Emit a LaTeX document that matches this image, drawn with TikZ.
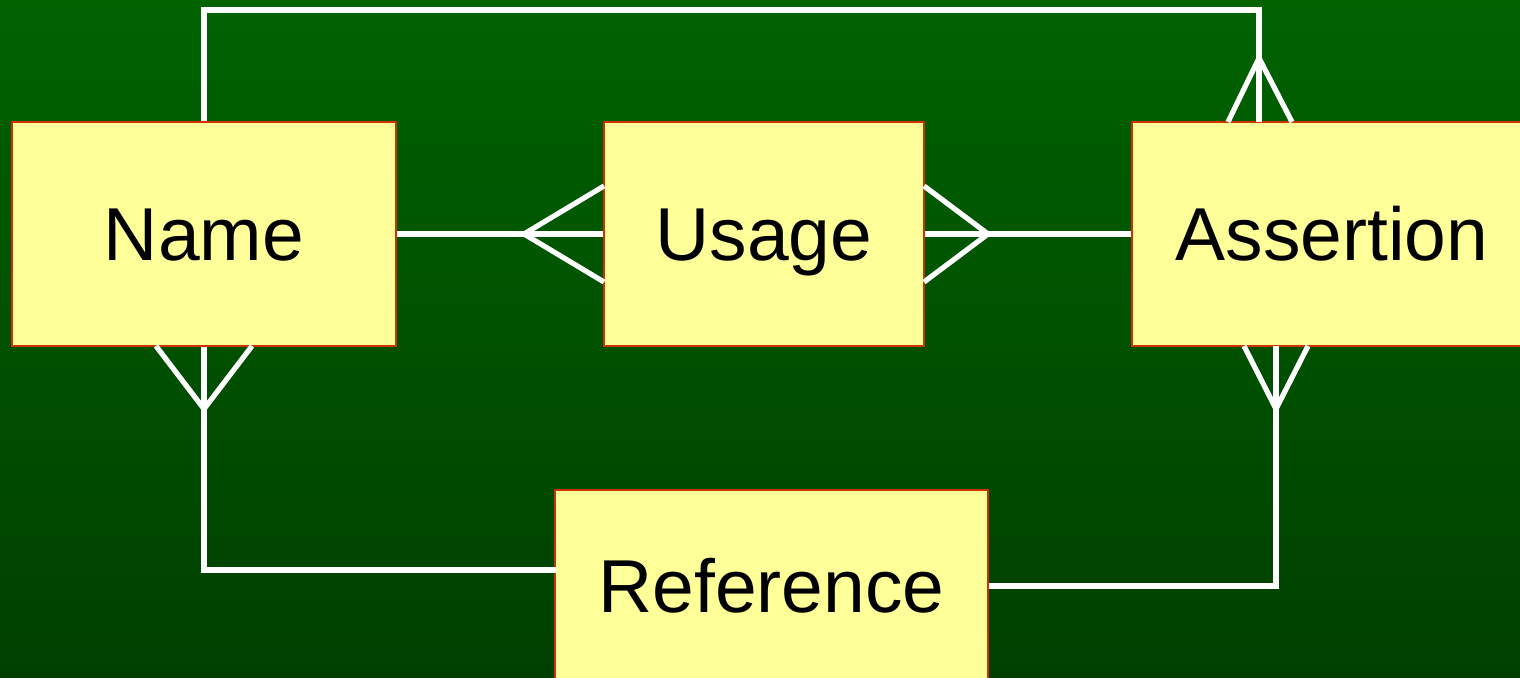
\documentclass[tikz,border=0pt]{standalone}
\usepackage{fontspec}
\setmainfont{Liberation Sans}
\definecolor{bgtop}{HTML}{006300}
\definecolor{bgbot}{HTML}{003F00}
\definecolor{boxfill}{HTML}{FFFF99}
\definecolor{boxline}{HTML}{CC3300}
\tikzset{
  entity/.style={draw=boxline, line width=1pt, fill=boxfill, inner sep=0pt,
    font=\fontsize{37.5}{45}\selectfont, text=black,
    text height=26.9pt, text depth=0pt},
  conn/.style={draw=white, line width=2.6pt, line cap=butt, line join=miter}
}
\begin{document}
\begin{tikzpicture}[x=0.5pt,y=-0.5pt]
\useasboundingbox (0,0) rectangle (1520,678);
\clip (0,0) rectangle (1520,678);
\shade[top color=bgtop, bottom color=bgbot] (0,0) rectangle (1520,678);

\node[entity, minimum width=192pt, minimum height=112pt] (name) at (204,234) {Name};
\node[entity, minimum width=160pt, minimum height=112pt] (usage) at (764,234) {Usage};
\node[entity, minimum width=200pt, minimum height=112pt] (assertion) at (1332,234) {Assertion};
\node[entity, minimum width=216.5pt, minimum height=96pt] (reference) at (771.5,586) {Reference};

% named points
\coordinate (tl) at (204,10);
\coordinate (atop) at (1259,122);
\coordinate (atopv) at (1259,58);
\coordinate (atopl) at (1228,122);
\coordinate (atopr) at (1292,122);

\coordinate (uleftv) at (524,234);
\coordinate (ulefta) at (604,186);
\coordinate (uleftb) at (604,282);

\coordinate (urightv) at (988,234);
\coordinate (urighta) at (924,186);
\coordinate (urightb) at (924,282);

\coordinate (nbv) at (204,409);
\coordinate (nbl) at (156,346);
\coordinate (nbr) at (252,346);

\coordinate (abot) at (1276,346);
\coordinate (abv) at (1276,409);
\coordinate (abl) at (1244,346);
\coordinate (abr) at (1308,346);
\coordinate (rl) at (204,570);
\coordinate (rlend) at (556,570);

% Name -- Assertion (top)
\draw[conn] (name.north) -- (tl) -| (atop);
\draw[conn] (atopl) -- (atopv) -- (atopr);

% Name -- Usage
\draw[conn] (name.east) -- (usage.west);
\draw[conn] (ulefta) -- (uleftv) -- (uleftb);

% Usage -- Assertion
\draw[conn] (usage.east) -- (assertion.west);
\draw[conn] (urighta) -- (urightv) -- (urightb);

% Name -- Reference
\draw[conn] (name.south) -- (rl) -- (rlend);
\draw[conn] (nbl) -- (nbv) -- (nbr);

% Assertion -- Reference
\draw[conn] (reference.east) -| (abot);
\draw[conn] (abl) -- (abv) -- (abr);
\end{tikzpicture}
\end{document}
